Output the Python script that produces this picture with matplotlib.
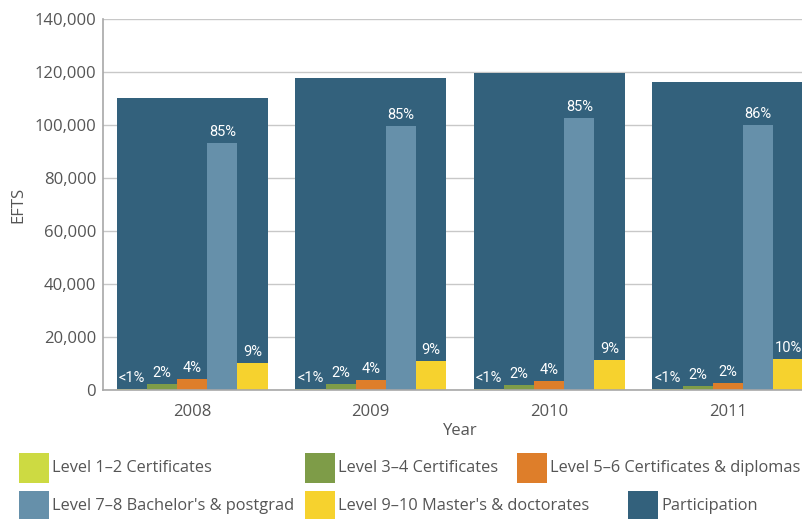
import numpy as np
import matplotlib
matplotlib.use("Agg")
import matplotlib.pyplot as plt
from matplotlib.patches import Rectangle

years = ["2008", "2009", "2010", "2011"]
participation = [110200, 117700, 119600, 116400]
level_1_2 = [400, 400, 400, 400]
level_3_4 = [2260, 2260, 1900, 1600]
level_5_6 = [4150, 3800, 3500, 2500]
level_7_8 = [93200, 99500, 102500, 99900]
level_9_10 = [10200, 11000, 11300, 11700]

pct_1_2 = ["<1%", "<1%", "<1%", "<1%"]
pct_3_4 = ["2%", "2%", "2%", "2%"]
pct_5_6 = ["4%", "4%", "4%", "2%"]
pct_7_8 = ["85%", "85%", "85%", "86%"]
pct_9_10 = ["9%", "9%", "9%", "10%"]

level_names = ["Level 1\u20132 Certificates", "Level 3\u20134 Certificates",
               "Level 5\u20136 Certificates & diplomas", "Level 7\u20138 Bachelor's & postgrad",
               "Level 9\u201310 Master's & doctorates", "Participation"]
colors = ["#cdda42", "#7e9c48", "#de7e2a", "#6690aa", "#f6d22e", "#33617c"]

text_col = "#555555"
plt.rcParams['font.family'] = ['Open Sans', 'DejaVu Sans']
label_font = ['Liberation Sans Narrow', 'Roboto', 'DejaVu Sans']

fig = plt.figure(figsize=(8.02, 5.19), dpi=100)
ax = fig.add_axes([103 / 802, 129 / 519, 714 / 802, 371 / 519])

x = np.arange(len(years))
group_w = 0.845
sub_w = group_w / 5

ax.bar(x, participation, width=group_w, color=colors[5], zorder=2)

series = [level_1_2, level_3_4, level_5_6, level_7_8, level_9_10]
pcts = [pct_1_2, pct_3_4, pct_5_6, pct_7_8, pct_9_10]
for i, (vals, labs) in enumerate(zip(series, pcts)):
    xs = x - group_w / 2 + sub_w * (i + 0.5)
    bars = ax.bar(xs, vals, width=sub_w, color=colors[i], zorder=3)
    for b, lab in zip(bars, labs):
        ax.annotate(lab, (b.get_x() + b.get_width() / 2, b.get_height()),
                    xytext=(0, 3), textcoords="offset points", ha="center", va="bottom",
                    color="white", fontsize=10.5, family=label_font, zorder=4)

ax.set_xlim(-0.5, 3.5)
ax.set_ylim(0, 140000)
ax.set_yticks(range(0, 140001, 20000))
ax.yaxis.set_major_formatter(matplotlib.ticker.StrMethodFormatter("{x:,.0f}"))
ax.set_xticks(x)
ax.set_xticklabels(years)
ax.tick_params(axis="both", length=0, labelsize=12, colors=text_col)
ax.tick_params(axis="x", pad=10)
ax.tick_params(axis="y", pad=5)
ax.grid(axis="y", color="#c8c8c8", lw=1, zorder=0)
ax.set_axisbelow(True)
for s in ["top", "right"]:
    ax.spines[s].set_visible(False)
for s in ["left", "bottom"]:
    ax.spines[s].set_color("#a8a8a8")
    ax.spines[s].set_linewidth(1.2)
    ax.spines[s].set_zorder(5)

ax.set_ylabel("EFTS", fontsize=12, color=text_col, labelpad=6)
ax.set_xlabel("Year", fontsize=12, color=text_col, labelpad=2)

# legend drawn by hand, 2 rows x 3 columns
patch_x = [19, 305, 517, 19, 305, 628]
patch_y = [453, 453, 453, 491, 491, 491]
for i in range(6):
    fig.patches.append(Rectangle((patch_x[i] / 802, 1 - (patch_y[i] + 30) / 519), 30 / 802, 30 / 519,
                                 transform=fig.transFigure, facecolor=colors[i], edgecolor="none"))
    fig.text((patch_x[i] + 33) / 802, 1 - (patch_y[i] + 15) / 519, level_names[i],
             ha="left", va="center", fontsize=11.8, color=text_col)

fig.savefig("out.png", dpi=100)
